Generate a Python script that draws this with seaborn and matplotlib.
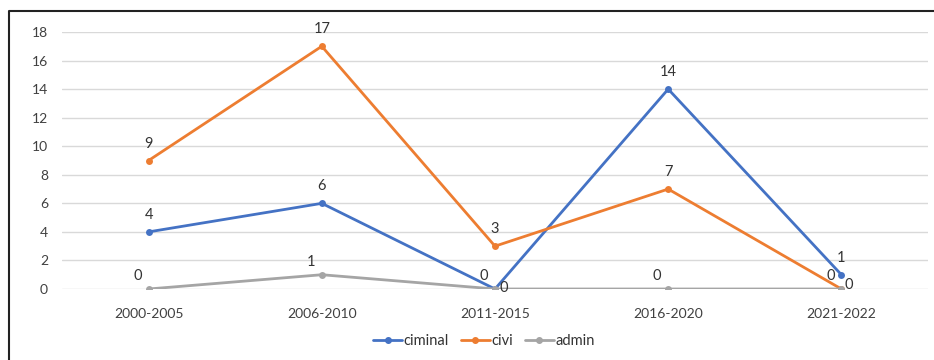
import pandas as pd
import matplotlib
matplotlib.use("Agg")
import matplotlib.pyplot as plt
import seaborn as sns
from matplotlib.lines import Line2D

# chart values
periods = ["2000-2005", "2006-2010", "2011-2015", "2016-2020", "2021-2022"]
criminal = [4, 6, 0, 14, 1]
civil = [9, 17, 3, 7, 0]
admin = [0, 1, 0, 0, 0]
series_names = ["ciminal", "civi", "admin"]
colors = ["#4472C4", "#ED7D31", "#A5A5A5"]
y_ticks = list(range(0, 20, 2))

sns.set_theme(style="white")
plt.rcParams["font.family"] = ["Lato", "DejaVu Sans"]

df = pd.DataFrame({
    "period": periods * 3,
    "value": criminal + civil + admin,
    "series": [series_names[0]] * 5 + [series_names[1]] * 5 + [series_names[2]] * 5,
})

fig = plt.figure(figsize=(9.34, 3.6), dpi=100)
ax = fig.add_axes([62 / 934, 1 - 289 / 360, (928 - 62) / 934, (289 - 32) / 360])

sns.lineplot(data=df, x="period", y="value", hue="series", hue_order=series_names,
             palette=colors, marker="o", markersize=5, markeredgewidth=0,
             linewidth=2.0, sort=False, ax=ax, legend=False)

ax.set_xlim(-0.5, len(periods) - 0.5)
ax.set_ylim(0, 18)
ax.set_yticks(y_ticks)
ax.set_xlabel("")
ax.set_ylabel("")
ax.grid(axis="y", color="#D9D9D9", linewidth=1)
ax.grid(axis="x", visible=False)
for s in ax.spines.values():
    s.set_visible(False)
ax.tick_params(axis="both", length=0, labelsize=10, colors="#404040")
ax.tick_params(axis="x", pad=14)
ax.tick_params(axis="y", pad=10)

# data labels (pixel offsets, Excel-style placement)
text_kw = dict(textcoords="offset pixels", fontsize=10.5, color="#333333", va="center")
for i, v in enumerate(criminal):
    off, ha = ((0, 17), "center") if i != 2 else ((4, 1), "left")
    ax.annotate(str(v), (i, v), xytext=off, ha=ha, **text_kw)
for i, v in enumerate(civil):
    off = (0, 17) if i != 4 else (-11, 13)
    ax.annotate(str(v), (i, v), xytext=off, ha="center", **text_kw)
for i, v in enumerate(admin):
    off, ha = ((-11, 13), "center") if i != 4 else ((3, 4), "left")
    ax.annotate(str(v), (i, v), xytext=off, ha=ha, **text_kw)

handles = [Line2D([], [], color=c, marker="o", markersize=4, linewidth=2.0) for c in colors]
fig.legend(handles, series_names, loc="center", bbox_to_anchor=(484 / 934, 1 - 341 / 360),
           ncol=3, frameon=False, handlelength=2.0, handletextpad=0.1, columnspacing=0.8,
           prop={"size": 10.5}, labelcolor="#333333")

# chart border (left and top edges visible)
fig.add_artist(Line2D([9 / 934, 9 / 934, 1.0], [0.0, 1 - 11 / 360, 1 - 11 / 360],
                      transform=fig.transFigure, color="#222222", linewidth=1.5))

fig.savefig("out.png", dpi=100)
